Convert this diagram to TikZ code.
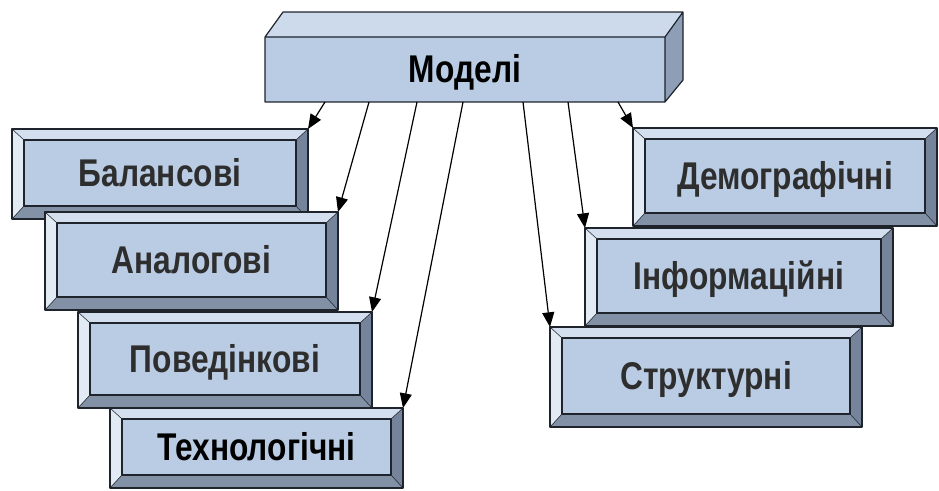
\documentclass[tikz,border=0pt]{standalone}
\usepackage{fontspec}
\setmainfont{Liberation Sans}
\usetikzlibrary{arrows.meta,calc,fit}

\definecolor{face}{HTML}{B9CCE4}
\definecolor{bevT}{HTML}{D3DFEE}
\definecolor{bevL}{HTML}{E2EAF4}
\definecolor{bevR}{HTML}{75849A}
\definecolor{bevB}{HTML}{8391A6}
\definecolor{edge}{HTML}{1E232C}
\definecolor{cubeTop}{HTML}{CCDAEC}
\definecolor{cubeSide}{HTML}{8D9EB6}
\definecolor{ink}{HTML}{2E2E2E}

\tikzset{
  outline/.style={draw=edge, line width=0.9pt, line join=round},
  facet/.style={draw=edge, line width=0.4pt},
  lbl/.style={font=\fontsize{29}{31}\selectfont\bfseries, text=ink, inner sep=0, anchor=base},
  link/.style={draw=black, line width=0.9pt, -{Triangle[length=11pt,width=9pt]}},
  area/.style={inner sep=0, outer sep=0, draw=none}
}

% bevelled box: name, x1, y1, x2, y2, label
\newcommand\bevbox[6]{%
  \fill[face] (#2,#3) rectangle (#4,#5);
  \fill[bevT] (#2,#3) -- (#4,#3) -- ({#4-12},{#3+11}) -- ({#2+12},{#3+11}) -- cycle;
  \fill[bevL] (#2,#3) -- ({#2+12},{#3+11}) -- ({#2+12},{#5-13}) -- (#2,#5) -- cycle;
  \fill[bevR] (#4,#3) -- ({#4-12},{#3+11}) -- ({#4-12},{#5-13}) -- (#4,#5) -- cycle;
  \fill[bevB] (#2,#5) -- ({#2+12},{#5-13}) -- ({#4-12},{#5-13}) -- (#4,#5) -- cycle;
  \draw[facet] (#2,#3) -- ({#2+12},{#3+11})
               (#4,#3) -- ({#4-12},{#3+11})
               (#2,#5) -- ({#2+12},{#5-13})
               (#4,#5) -- ({#4-12},{#5-13});
  \draw[outline] ({#2+12},{#3+11}) rectangle ({#4-12},{#5-13});
  \draw[outline] (#2,#3) rectangle (#4,#5);
  \node[area, fit={(#2,#3) (#4,#5)}] (#1) {};
  \node[lbl] at ($(#1.center)+(0,12)$) {\scalebox{0.82}[1]{#6}};
}

\begin{document}
\begin{tikzpicture}[x=0.75pt, y=-0.75pt]
\useasboundingbox (0,0) rectangle (939,490);

% top block drawn as a box in perspective
\fill[face] (265,37) rectangle (665,102);
\fill[cubeTop] (265,37) -- (283,12) -- (683,12) -- (665,37) -- cycle;
\fill[cubeSide] (665,37) -- (683,12) -- (683,80) -- (665,102) -- cycle;
\draw[outline] (265,37) rectangle (665,102)
               (265,37) -- (283,12) -- (683,12) -- (683,80) -- (665,102)
               (665,37) -- (683,12);
\node[area, fit={(265,37) (665,102)}] (m) {};
\node[lbl, text=black] at ($(m.center)+(0,13)$) {\scalebox{0.82}[1]{Моделі}};

% left column
\bevbox{bal}{12}{129}{308}{219}{Балансові}
\bevbox{ana}{45}{212}{338}{310}{Аналогові}
\bevbox{pov}{78}{312}{372}{408}{Поведінкові}
\bevbox{tex}{110}{408}{403}{488}{\textcolor{black}{Технологічні}}

% right column
\bevbox{dem}{633}{128}{937}{226}{Демографічні}
\bevbox{inf}{585}{228}{893}{326}{Інформаційні}
\bevbox{str}{550}{327}{862}{427}{Структурні}

% connectors
\draw[link] ($(m.south west)!0.15!(m.south east)$) -- (bal.north east);
\draw[link] ($(m.south west)!0.26!(m.south east)$) -- (ana.north east);
\draw[link] ($(m.south west)!0.38!(m.south east)$) -- (pov.north east);
\draw[link] ($(m.south west)!0.495!(m.south east)$) -- (tex.north east);
\draw[link] ($(m.south west)!0.645!(m.south east)$) -- (str.north west);
\draw[link] ($(m.south west)!0.7575!(m.south east)$) -- (inf.north west);
\draw[link] ($(m.south west)!0.8825!(m.south east)$) -- (dem.north west);
\end{tikzpicture}
\end{document}
